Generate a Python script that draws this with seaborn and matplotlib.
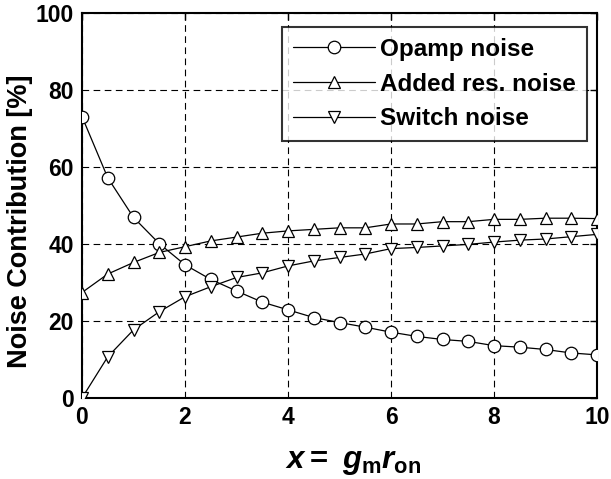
import matplotlib
matplotlib.use("Agg")
import matplotlib.pyplot as plt
import seaborn as sns
import pandas as pd
from matplotlib.lines import Line2D

x = [0, 0.5, 1, 1.5, 2, 2.5, 3, 3.5, 4, 4.5, 5, 5.5, 6, 6.5, 7, 7.5, 8, 8.5, 9, 9.5, 10]
opamp = [73.1, 57.2, 46.9, 40.1, 34.6, 30.8, 27.8, 24.9, 22.9, 20.9, 19.6,
         18.4, 17.1, 16.0, 15.2, 14.7, 13.6, 13.2, 12.6, 11.7, 11.2]
added = [27.4, 32.2, 35.2, 37.8, 39.3, 40.8, 41.8, 42.8, 43.4, 43.8, 44.2,
         44.2, 45.2, 45.2, 45.8, 45.8, 46.4, 46.4, 46.7, 46.7, 46.6]
switch = [0.0, 10.7, 17.7, 22.4, 26.3, 28.9, 31.3, 32.5, 34.3, 35.6, 36.5,
          37.4, 38.8, 39.1, 39.5, 39.9, 40.5, 41.0, 41.3, 41.9, 42.5]
labels = ["Opamp noise", "Added res. noise", "Switch noise"]
markers = ["o", "^", "v"]
xticks = [0, 2, 4, 6, 8, 10]
yticks = [0, 20, 40, 60, 80, 100]

sns.set_style("white")
plt.rcParams["font.family"] = ["Liberation Sans", "DejaVu Sans"]
plt.rcParams["font.weight"] = "bold"
plt.rcParams["text.color"] = "black"
plt.rcParams["axes.labelcolor"] = "black"
plt.rcParams["xtick.color"] = "black"
plt.rcParams["ytick.color"] = "black"
plt.rcParams["mathtext.fontset"] = "custom"
plt.rcParams["mathtext.rm"] = "Liberation Sans:bold"
plt.rcParams["mathtext.it"] = "Liberation Sans:bold:italic"
plt.rcParams["mathtext.bf"] = "Liberation Sans:bold"

fig = plt.figure(figsize=(6.11, 4.79), dpi=100)
ax = fig.add_axes([82/611, 1-398/479, (597-82)/611, (398-13)/479])

series = [opamp, added, switch]
handles = []
for vals, lab, m in zip(series, labels, markers):
    df = pd.DataFrame({"x": x, "y": vals})
    ms = 9 if m == "o" else 8.5
    sns.lineplot(data=df, x="x", y="y", ax=ax, color="black", linewidth=0.9,
                 marker=m, markersize=ms,
                 markerfacecolor="white", markeredgecolor="black",
                 markeredgewidth=0.9, zorder=3)
    handles.append(Line2D([0], [0], color="black", linewidth=0.9, marker=m,
                          markersize=ms,
                          markerfacecolor="white", markeredgecolor="black",
                          markeredgewidth=0.9))

ax.set_xlim(0, 10)
ax.set_ylim(0, 100)
ax.set_xticks(xticks)
ax.set_yticks(yticks)
ax.set_xticklabels([str(t) for t in xticks], fontsize=16.5, fontweight="bold")
ax.set_yticklabels([str(t) for t in yticks], fontsize=16.5, fontweight="bold")
ax.tick_params(direction="in", length=5, width=1, top=True, right=True,
               colors="black", pad=6)
ax.grid(True, color="black", linestyle=(0, (6, 4)), linewidth=0.8)
for s in ax.spines.values():
    s.set_visible(True)
    s.set_color("black")
    s.set_linewidth(1.5)

ax.set_ylabel("Noise Contribution [%]", fontsize=19.5, fontweight="bold")
ax.yaxis.set_label_coords((33 - 82) / 515, (398 - 221.5) / 385)
ax.set_xlabel(r"$x =\ g_{\mathrm{m}}r_{\mathrm{on}}$", fontsize=22.5)
ax.xaxis.set_label_coords((353 - 82) / 515, (398 - 447) / 385)

leg = ax.legend(handles, labels, loc="upper right",
                bbox_to_anchor=(1 - 10/515, 1 - 14/385),
                fontsize=17.5, frameon=True, fancybox=False, edgecolor="black",
                handlelength=3.4, handletextpad=0.2, labelspacing=0.48,
                borderpad=0.45, borderaxespad=0)
leg.get_frame().set_linewidth(1.5)
for t in leg.get_texts():
    t.set_fontweight("bold")

fig.savefig("out.png", dpi=100, facecolor="white")
